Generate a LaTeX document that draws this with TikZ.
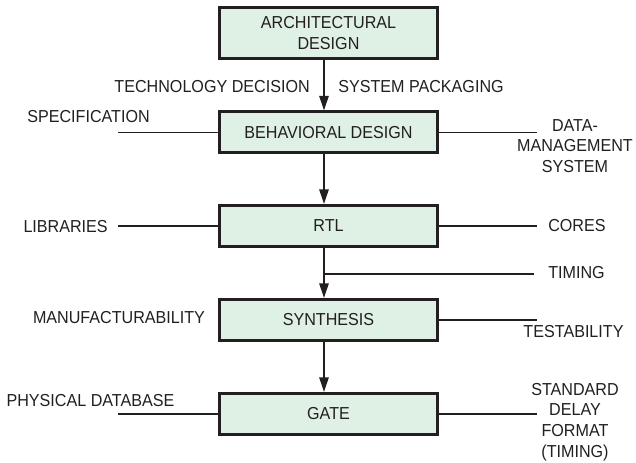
\documentclass[tikz,border=0pt]{standalone}
\usepackage{fontspec}
\setmainfont{Liberation Sans}[FakeStretch=0.93]
\usetikzlibrary{arrows.meta}
\definecolor{boxfill}{RGB}{223,240,229}
\definecolor{ink}{RGB}{35,31,32}

\begin{document}
\begin{tikzpicture}[x=0.75pt,y=-0.75pt,
  every node/.style={text=ink,font=\fontsize{13}{15.4}\selectfont},
  stage/.style={draw=ink,line width=2.25pt,fill=boxfill,minimum width=163.5pt,minimum height=30.75pt,align=center,inner sep=0pt},
  note/.style={inner sep=0pt,align=center},
  feed/.style={draw=ink,line width=1.3pt},
  flow/.style={feed,-{Triangle[length=11pt,width=7pt]}}]
\useasboundingbox (0,0) rectangle (636,463);

\coordinate (spine) at (324,0);
\coordinate (leftend) at (118,0);
\coordinate (rightend) at (537,0);
\coordinate (timingend) at (534,274);

\node [stage,minimum height=38.25pt](arch) at (328.5,33) {ARCHITECTURAL\\DESIGN};
\node [stage](behav) at (328.5,132.5) {BEHAVIORAL DESIGN};
\node [stage](rtl) at (328.5,226) {RTL};
\node [stage](synth) at (328.5,320) {SYNTHESIS};
\node [stage](gate) at (328.5,414) {GATE};

% flow down the middle
\draw [flow] (arch.south -| spine) -- (behav.north -| spine);
\draw [flow] (behav.south -| spine) -- (rtl.north -| spine);
\draw [flow] (rtl.south -| spine) -- (synth.north -| spine);
\draw [flow] (synth.south -| spine) -- (gate.north -| spine);
\draw [feed] (timingend -| spine) -- (timingend);

% side lines
\draw [feed] (behav.west) -- (behav.west -| leftend);
\draw [feed] (behav.east) -- (behav.east -| rightend);
\draw [feed] (rtl.west) -- (rtl.west -| leftend);
\draw [feed] (rtl.east) -- (rtl.east -| rightend);
\draw [feed] (synth.east) -- (synth.east -| rightend);
\draw [feed] (gate.west) -- (gate.west -| leftend);
\draw [feed] (gate.east) -- (gate.east -| rightend);

\node [note,anchor=east](techdec) at (310,87) {TECHNOLOGY DECISION};
\node [note,anchor=west](syspack) at (338,87) {SYSTEM PACKAGING};
\node [note](spec) at (88.5,117) {SPECIFICATION};
\node [note](dms) at (575,146) {DATA-\\MANAGEMENT\\SYSTEM};
\node [note,anchor=east](libs) at (108,227) {LIBRARIES};
\node [note,anchor=west](cores) at (548,226) {CORES};
\node [note,anchor=west](timing) at (548,273) {TIMING};
\node [note](manuf) at (119,318) {MANUFACTURABILITY};
\node [note](testab) at (573.5,332) {TESTABILITY};
\node [note](physdb) at (90.5,401) {PHYSICAL DATABASE};
\node [note](sdf) at (575,422) {STANDARD\\DELAY\\FORMAT\\(TIMING)};
\end{tikzpicture}
\end{document}
